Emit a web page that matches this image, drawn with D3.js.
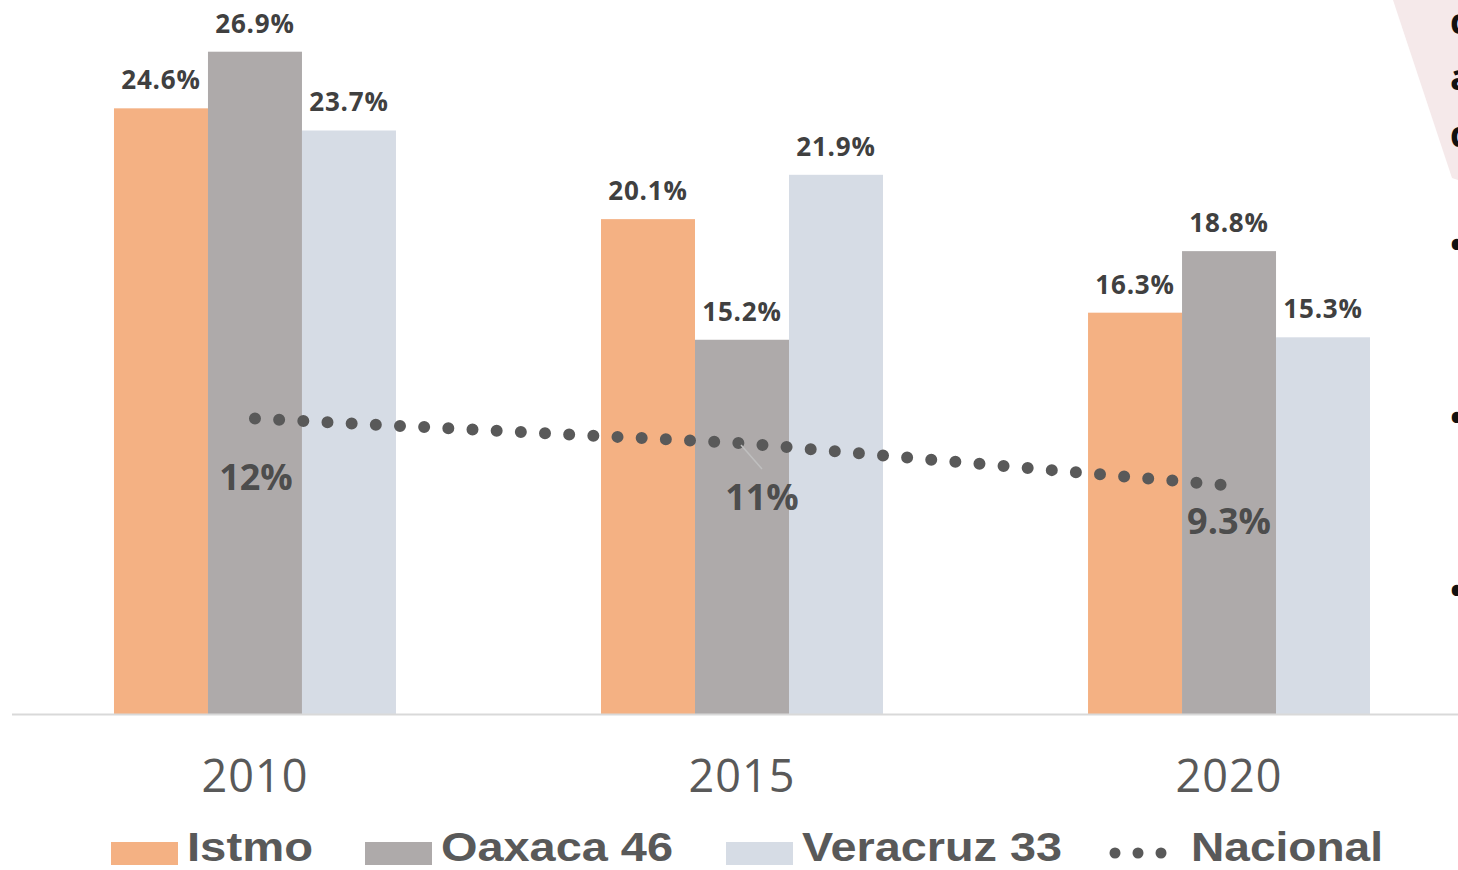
<!DOCTYPE html>
<html>
<head>
<meta charset="utf-8">
<script src="https://cdn.jsdelivr.net/npm/d3@7"></script>
<style>
  body { margin: 0; background: #fff; }
  svg { display: block; font-family: "Open Sans", "Noto Sans", sans-serif; }
  .leg { font-family: "Liberation Sans", Arial, sans-serif; }
</style>
</head>
<body>
<script>
// data
var years = ["2010", "2015", "2020"];
var seriesNames = ["Istmo", "Oaxaca 46", "Veracruz 33"];
var istmo = [24.6, 20.1, 16.3];
var oaxaca = [26.9, 15.2, 18.8];
var veracruz = [23.7, 21.9, 15.3];
var nacional = [12, 11, 9.3];
var nacionalLabels = ["12%", "11%", "9.3%"];

var colors = ["#f4b183", "#aeaaaa", "#d6dce5"];
var width = 1458, height = 870;

var svg = d3.select("body").append("svg")
  .attr("width", width)
  .attr("height", height);

// decorative corner shape on the right
svg.append("polygon")
  .attr("points", "1393,0 1458,0 1458,180 1452,178")
  .attr("fill", "#f5e9ea");

var x0 = d3.scaleBand().domain(years).range([12, 1472]).paddingInner(0.421).paddingOuter(0.2094);
var x1 = d3.scaleBand().domain(seriesNames).range([0, x0.bandwidth()]);
var y = d3.scaleLinear().domain([0, 29]).range([714, 0]);

var rows = years.map(function(yr, i) {
  return { year: yr, values: [istmo[i], oaxaca[i], veracruz[i]] };
});

var groups = svg.selectAll(".grp")
  .data(rows)
  .enter()
  .append("g")
  .attr("class", "grp")
  .attr("transform", function(d) { return "translate(" + x0(d.year) + ",0)"; });

groups.selectAll("rect")
  .data(function(d) { return d.values; })
  .enter()
  .append("rect")
  .attr("x", function(d, i) { return x1(seriesNames[i]); })
  .attr("y", function(d) { return y(d); })
  .attr("width", x1.bandwidth())
  .attr("height", function(d) { return y(0) - y(d); })
  .attr("fill", function(d, i) { return colors[i]; });

groups.selectAll("text")
  .data(function(d) { return d.values; })
  .enter()
  .append("text")
  .attr("x", function(d, i) { return x1(seriesNames[i]) + x1.bandwidth() / 2; })
  .attr("y", function(d) { return y(d) - 19; })
  .attr("text-anchor", "middle")
  .attr("font-size", 26)
  .attr("font-weight", 700)
  .attr("letter-spacing", 0.8)
  .attr("fill", "#404040")
  .text(function(d) { return d.toFixed(1) + "%"; });

// axis line
svg.append("line")
  .attr("x1", 12).attr("x2", width)
  .attr("y1", 714.5).attr("y2", 714.5)
  .attr("stroke", "#d9d9d9")
  .attr("stroke-width", 2);

// year labels
svg.selectAll(".year")
  .data(years)
  .enter()
  .append("text")
  .attr("class", "year")
  .attr("x", function(d) { return x0(d) + x0.bandwidth() / 2; })
  .attr("y", 792)
  .attr("text-anchor", "middle")
  .attr("font-size", 45)
  .attr("letter-spacing", 1)
  .attr("fill", "#595959")
  .text(function(d) { return d; });

// nacional dotted line
var cx = function(d, i) { return x0(years[i]) + x0.bandwidth() / 2 + (i === 2 ? -6 : 0); };
var line = d3.line()
  .x(function(d, i) { return cx(d, i); })
  .y(function(d) { return y(d); });

svg.append("path")
  .datum(nacional)
  .attr("d", line)
  .attr("fill", "none")
  .attr("stroke", "#595959")
  .attr("stroke-width", 12)
  .attr("stroke-linecap", "round")
  .attr("stroke-dasharray", "0,24.2");

// leader line for 11%
svg.append("line")
  .attr("x1", 741).attr("y1", 445)
  .attr("x2", 762).attr("y2", 469)
  .attr("stroke", "#bfbfbf")
  .attr("stroke-width", 1.5);

var natOffsets = [[1, 59], [20, 55], [6, 37]];
svg.selectAll(".nat")
  .data(nacional)
  .enter()
  .append("text")
  .attr("x", function(d, i) { return cx(d, i) + natOffsets[i][0]; })
  .attr("y", function(d, i) { return y(d) + natOffsets[i][1] + 12; })
  .attr("text-anchor", "middle")
  .attr("font-size", 36)
  .attr("font-weight", 700)
  .attr("fill", "#404040")
  .attr("fill-opacity", 0.9)
  .text(function(d, i) { return nacionalLabels[i]; });

// legend
var legend = [
  { name: "Istmo", color: colors[0], x: 111, w: 126 },
  { name: "Oaxaca 46", color: colors[1], x: 365, w: 232 },
  { name: "Veracruz 33", color: colors[2], x: 726, w: 260 }
];
legend.forEach(function(l) {
  svg.append("rect")
    .attr("x", l.x).attr("y", 842)
    .attr("width", 67).attr("height", 23)
    .attr("fill", l.color);
  svg.append("text")
    .attr("class", "leg")
    .attr("x", l.x + 76).attr("y", 861)
    .attr("font-size", 41)
    .attr("font-weight", 700)
    .attr("fill", "#595959")
    .attr("textLength", l.w)
    .attr("lengthAdjust", "spacingAndGlyphs")
    .text(l.name);
});
[1115, 1138, 1161].forEach(function(px) {
  svg.append("circle")
    .attr("cx", px).attr("cy", 853)
    .attr("r", 5.5)
    .attr("fill", "#595959");
});
svg.append("text")
  .attr("class", "leg")
  .attr("x", 1191).attr("y", 861)
  .attr("font-size", 41)
  .attr("font-weight", 700)
  .attr("fill", "#595959")
  .attr("textLength", 192)
  .attr("lengthAdjust", "spacingAndGlyphs")
  .text("Nacional");

// cut-off text on the right edge
var edgeText = [["c", 34], ["a", 90], ["d", 147], ["•", 258], ["•", 431], ["•", 604]];
edgeText.forEach(function(t) {
  svg.append("text")
    .attr("x", 1450).attr("y", t[1])
    .attr("font-size", 36)
    .attr("font-weight", 700)
    .attr("fill", "#111")
    .text(t[0]);
});
</script>
</body>
</html>
